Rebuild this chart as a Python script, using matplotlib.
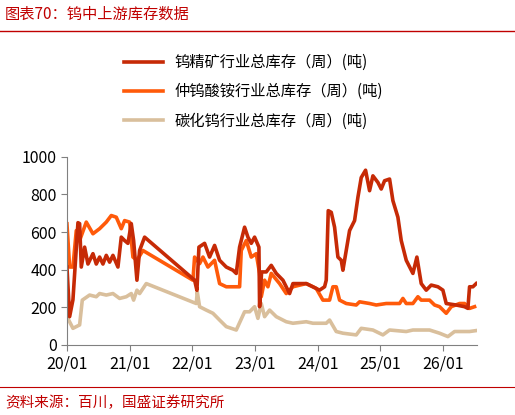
import matplotlib
matplotlib.use("Agg")
import matplotlib.pyplot as plt
import numpy as np

plt.rcParams['font.family'] = ['Noto Sans CJK SC', 'DejaVu Sans']

# x positions sampled on a pixel grid: 188 units per year, 22 = Jan 2020
s1_x = [22,30,40,55,60,65,75,85,100,110,120,130,140,150,160,175,185,195,205,215,222,232,240,255,405,412,418,435,450,465,480,500,520,530,540,555,565,575,585,598,600,606,620,635,650,670,690,700,720,740,760,780,795,800,806,815,825,835,845,850,855,870,885,895,905,918,930,940,955,965,975,990,1000,1015,1025,1040,1060,1072,1085,1100,1115,1135,1150,1160,1190,1215,1225,1230,1240,1250]
s1_y = [414,150,240,650,645,414,520,430,485,430,467,430,476,440,476,414,573,555,540,645,555,344,502,573,344,290,520,540,467,529,450,414,397,380,520,626,573,540,573,520,203,388,388,423,380,344,273,326,326,326,309,291,309,344,714,705,626,467,450,397,450,608,661,785,890,929,820,899,864,829,873,882,767,679,555,450,380,467,326,291,318,309,291,220,212,203,194,309,309,326]
s2_x = [22,30,40,50,60,80,100,120,140,155,170,185,195,210,220,232,250,400,405,420,430,445,465,480,500,540,545,560,575,590,600,605,615,625,635,660,680,700,740,770,790,810,820,830,840,860,890,900,930,950,980,1020,1030,1040,1060,1075,1085,1110,1125,1140,1160,1175,1200,1215,1230,1245]
s2_y = [644,414,414,608,555,653,591,618,653,688,679,618,661,653,467,450,502,344,467,432,467,414,450,326,309,309,502,555,467,485,380,256,344,309,380,326,273,309,326,300,238,238,309,309,238,220,212,229,220,212,220,220,247,220,220,256,238,238,212,203,168,203,220,220,194,203]
s3_x = [22,40,60,68,90,110,120,140,160,180,200,215,222,232,240,260,410,413,420,440,460,480,500,530,555,570,585,595,605,615,630,650,680,700,740,760,800,810,830,850,890,905,940,970,990,1040,1060,1110,1140,1165,1185,1230,1250]
s3_y = [150,88,106,238,265,256,273,265,273,247,256,273,238,291,273,326,220,282,203,185,168,132,97,79,176,176,203,141,220,150,185,150,123,115,123,115,115,132,71,62,53,88,79,53,79,71,79,79,62,44,71,71,76]

labels = ["钨精矿行业总库存（周）(吨)", "仲钨酸铵行业总库存（周）(吨)", "碳化钨行业总库存（周）(吨)"]
colors = ["#C62A06", "#FF5A0A", "#D9BF9C"]
xticklabels = ["20/01", "21/01", "22/01", "23/01", "24/01", "25/01", "26/01"]

def yr(xs):
    return 2020 + (np.array(xs) - 22) / 188.0

fig = plt.figure(figsize=(5.15, 4.15), dpi=100)
ax = fig.add_axes([0.130, 0.169, 0.796, 0.453])
for xs, ys, c, lab in [(s1_x, s1_y, colors[0], labels[0]), (s2_x, s2_y, colors[1], labels[1]), (s3_x, s3_y, colors[2], labels[2])][::-1]:
    ax.plot(yr(xs), ys, color=c, lw=2.6, label=lab, solid_joinstyle='round')
ax.set_ylim(0, 1000)
ax.set_xlim(2020, 2020 + (1252 - 22) / 188.0)
ax.set_yticks(range(0, 1001, 200))
ax.set_xticks(np.arange(2020, 2027))
ax.set_xticklabels(xticklabels)
for s in ['top', 'right']:
    ax.spines[s].set_visible(False)
for s in ['left', 'bottom']:
    ax.spines[s].set_color('#808080')
ax.tick_params(colors='black', labelsize=11.5, direction='out', length=4)
ax.tick_params(axis='both', color='#808080')

h, l = ax.get_legend_handles_labels()
fig.legend(h[::-1], l[::-1], loc='upper left', bbox_to_anchor=(0.215, 0.903), frameon=False,
           fontsize=11, handlelength=2.5, labelspacing=0.8)

fig.text(0.01, 0.965, "图表70：钨中上游库存数据", color='#C00000', fontsize=11, style='italic', va='center')
fig.add_artist(plt.Line2D([0.0, 1.0], [0.925, 0.925], color='#C00000', lw=1))
fig.add_artist(plt.Line2D([0.0, 1.0], [0.068, 0.068], color='#C00000', lw=0.8))
fig.text(0.01, 0.03, "资料来源：百川，国盛证券研究所", color='#C00000', fontsize=10.5, style='italic', va='center')

fig.savefig("out.png", dpi=100)
